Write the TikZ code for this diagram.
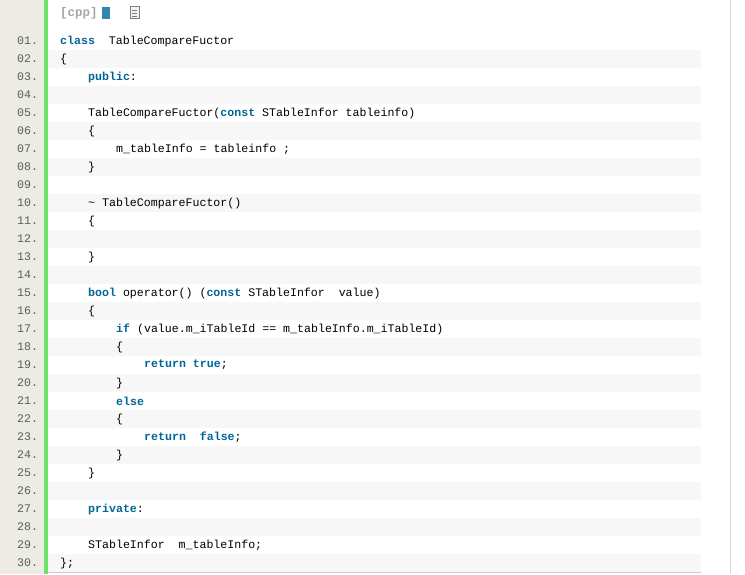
\documentclass[tikz,border=0pt]{standalone}
\usepackage{fontspec}
\setmonofont{Liberation Mono}
\usetikzlibrary{positioning}
\definecolor{gutter}{HTML}{ECECE4}
\definecolor{barcol}{HTML}{6CE26C}
\definecolor{rowgray}{HTML}{F7F7F7}
\definecolor{kwcol}{HTML}{006699}
\definecolor{numcol}{HTML}{5C5C5C}
\newcommand\kw[1]{\textcolor{kwcol}{\bfseries #1}}
\tikzset{
  codeline/.style={anchor=west,inner sep=0pt,font=\ttfamily\fontsize{11.6}{12}\selectfont},
  linenum/.style={anchor=west,inner sep=0pt,text=numcol,font=\ttfamily\fontsize{11.6}{12}\selectfont},
}
\begin{document}
\begin{tikzpicture}[x=1pt,y=-1pt]
      \useasboundingbox (0,0) rectangle (745,574);
      \fill[white] (0,0) rectangle (745,574);
      \fill[gutter] (0,0) rectangle (44,574);
      \fill[barcol] (44,0) rectangle (48,574);
      \draw[black!15] (730,0) -- (730,574);

      % header
      \node[anchor=west,inner sep=0pt,text=black!35,font=\ttfamily\bfseries\fontsize{12.5}{14}\selectfont] (lang) at (60,13) {[cpp]};
      \fill[kwcol!80] (102,7) rectangle (110,19);
      \draw[black!50,fill=black!5] (130,6) rectangle (139,18);
      \draw[black!50] (132,10) -- (137,10) (132,13) -- (137,13) (132,16) -- (137,16);

      % row stripes and line numbers
      \foreach \i in {1,...,30}{
        \ifodd\i\else
          \fill[rowgray] (48,{32+18*(\i-1)}) rectangle (701,{32+18*\i});
        \fi
        \node[linenum] (n\i) at (17,{41+18*(\i-1)}) {\ifnum\i<10 0\fi\i.};
      }
      \draw[black!20] (48,572) -- (701,572);

      \newcommand\row[3]{\node[codeline] (c#1) at (#2,{41+18*(#1-1)}) {#3};}
      \row{1}{60}{\kw{class}\ \ TableCompareFuctor}
      \row{2}{60}{\{}
      \row{3}{88}{\kw{public}:}
      \row{5}{88}{TableCompareFuctor(\kw{const} STableInfor tableinfo)}
      \row{6}{88}{\{}
      \row{7}{116}{m\_tableInfo = tableinfo ;}
      \row{8}{88}{\}}
      \row{10}{88}{\textasciitilde\ TableCompareFuctor()}
      \row{11}{88}{\{}
      \row{13}{88}{\}}
      \row{15}{88}{\kw{bool} operator() (\kw{const} STableInfor\ \ value)}
      \row{16}{88}{\{}
      \row{17}{116}{\kw{if} (value.m\_iTableId == m\_tableInfo.m\_iTableId)}
      \row{18}{116}{\{}
      \row{19}{144}{\kw{return} \kw{true};}
      \row{20}{116}{\}}
      \row{21}{116}{\kw{else}}
      \row{22}{116}{\{}
      \row{23}{144}{\kw{return}\ \ \kw{false};}
      \row{24}{116}{\}}
      \row{25}{88}{\}}
      \row{27}{88}{\kw{private}:}
      \row{29}{88}{STableInfor\ \ m\_tableInfo;}
      \row{30}{60}{\};}
\end{tikzpicture}
\end{document}
